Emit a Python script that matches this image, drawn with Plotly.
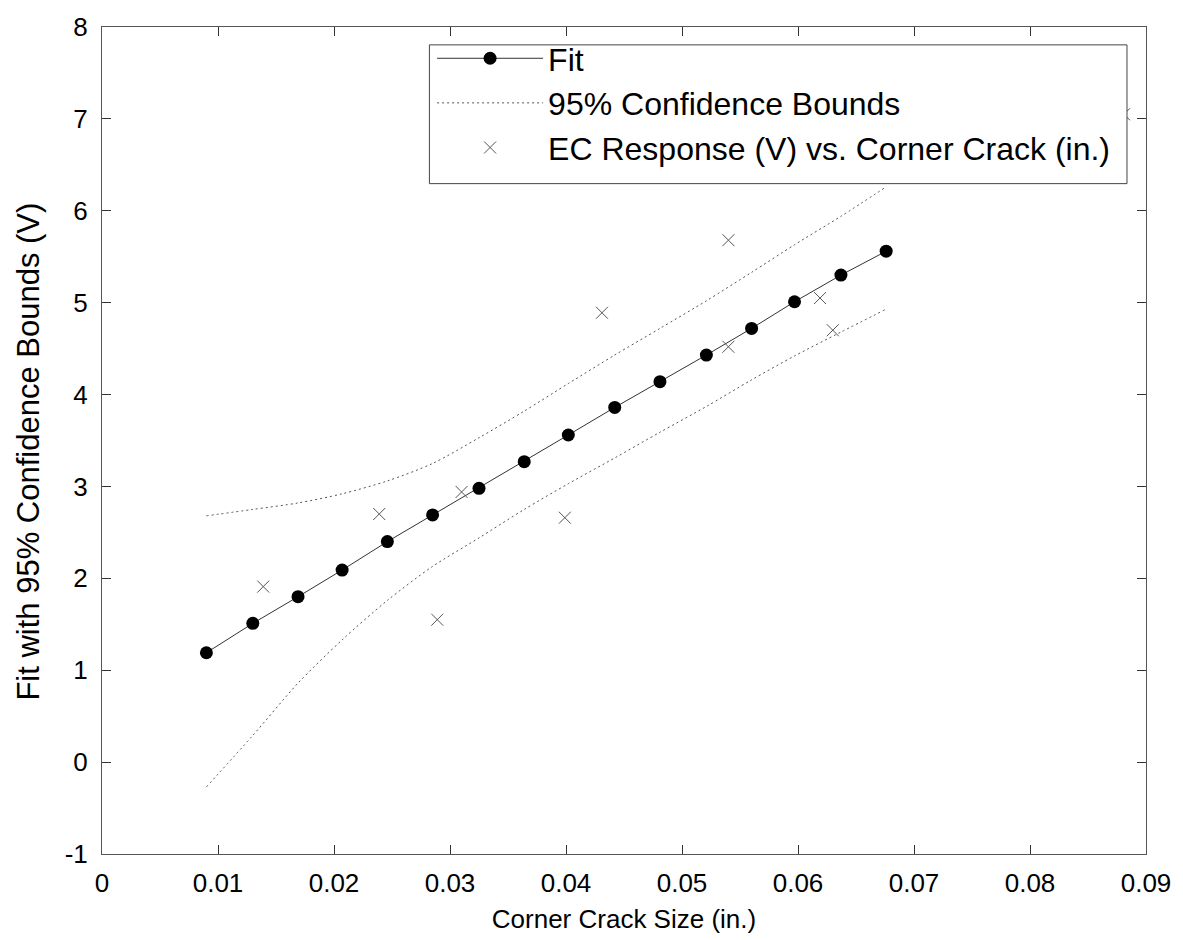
import plotly.graph_objects as go

# Fitted line
fit_x = [0.0090, 0.0130, 0.0169, 0.0207, 0.0246, 0.0285, 0.0325, 0.0364,
         0.0402, 0.0442, 0.0481, 0.0521, 0.0560, 0.0597, 0.0637, 0.0676]
fit_y = [1.19, 1.51, 1.80, 2.09, 2.40, 2.69, 2.98, 3.27,
         3.56, 3.86, 4.14, 4.43, 4.72, 5.01, 5.30, 5.56]

# 95% confidence bounds
upper_y = [2.68, 2.75, 2.82, 2.92, 3.06, 3.25, 3.53, 3.82,
           4.12, 4.43, 4.72, 5.02, 5.33, 5.63, 5.94, 6.26]
lower_y = [-0.27, 0.29, 0.86, 1.33, 1.76, 2.13, 2.44, 2.75,
           3.03, 3.31, 3.59, 3.87, 4.16, 4.42, 4.68, 4.93]

# Measured EC response data
data_x = [0.0139, 0.0239, 0.0289, 0.0310, 0.0399, 0.0431, 0.0540, 0.0540, 0.0619, 0.0630, 0.0881]
data_y = [1.91, 2.70, 1.55, 2.94, 2.66, 4.89, 4.52, 5.68, 5.05, 4.70, 7.05]

x_ticks = [0, 0.01, 0.02, 0.03, 0.04, 0.05, 0.06, 0.07, 0.08, 0.09]
x_tick_text = ["0", "0.01", "0.02", "0.03", "0.04", "0.05", "0.06", "0.07", "0.08", "0.09"]
y_ticks = [-1, 0, 1, 2, 3, 4, 5, 6, 7, 8]
y_tick_text = ["-1", "0", "1", "2", "3", "4", "5", "6", "7", "8"]

FONT = "Liberation Sans, Arial, sans-serif"

fig = go.Figure()
fig.add_trace(go.Scatter(
    x=fit_x, y=fit_y, mode="lines+markers", name="Fit",
    line=dict(color="#333333", width=1),
    marker=dict(symbol="circle", size=13, color="black"),
))
fig.add_trace(go.Scatter(
    x=fit_x, y=upper_y, mode="lines", name="95% Confidence Bounds",
    legendgroup="cb", line=dict(color="#555555", width=1, dash="2px,3px", shape="spline", smoothing=0.8),
))
fig.add_trace(go.Scatter(
    x=fit_x, y=lower_y, mode="lines", name="95% Confidence Bounds",
    legendgroup="cb", showlegend=False,
    line=dict(color="#555555", width=1, dash="2px,3px", shape="spline", smoothing=0.8),
))
fig.add_trace(go.Scatter(
    x=data_x, y=data_y, mode="markers",
    name="EC Response (V) vs. Corner Crack (in.)",
    marker=dict(symbol="x-thin-open", size=12, color="#555555",
                line=dict(color="#555555", width=1)),
))

axis_common = dict(
    showline=True, linecolor="#555555", linewidth=1, mirror="ticks",
    ticks="inside", ticklen=9, tickcolor="#333333", tickwidth=1,
    showgrid=False, zeroline=False,
    tickfont=dict(family=FONT, size=26, color="black"),
)

# Legend box (white frame hiding data behind it)
fig.add_shape(type="rect", xref="paper", yref="paper",
              x0=0.3136, x1=0.9818, y0=0.8106, y1=0.9784,
              fillcolor="white", line=dict(color="#444444", width=1), layer="above")

fig.add_annotation(text="Fit with 95% Confidence Bounds (V)", xref="paper", yref="paper",
                   x=-0.0707, y=0.4868, xanchor="center", yanchor="middle",
                   textangle=-90, showarrow=False,
                   font=dict(family=FONT, size=31, color="black"))

fig.update_layout(
    width=1183, height=940,
    margin=dict(l=102, r=35, t=22, b=84),
    paper_bgcolor="white", plot_bgcolor="white",
    font=dict(family=FONT, color="black"),
    xaxis=dict(range=[0, 0.09], tickvals=x_ticks, ticktext=x_tick_text,
               title=dict(text="Corner Crack Size (in.)", font=dict(family=FONT, size=26), standoff=12),
               ticklabelstandoff=6, **axis_common),
    yaxis=dict(range=[-1, 8], tickvals=y_ticks, ticktext=y_tick_text,
               ticklabelstandoff=8, **axis_common),
    legend=dict(x=0.9704, y=0.9952, xanchor="right", yanchor="top",
                bgcolor="rgba(0,0,0,0)", borderwidth=0,
                font=dict(family=FONT, size=32, color="black"),
                itemwidth=106, tracegroupgap=0),
    showlegend=True,
)

fig.write_html("out.html")
